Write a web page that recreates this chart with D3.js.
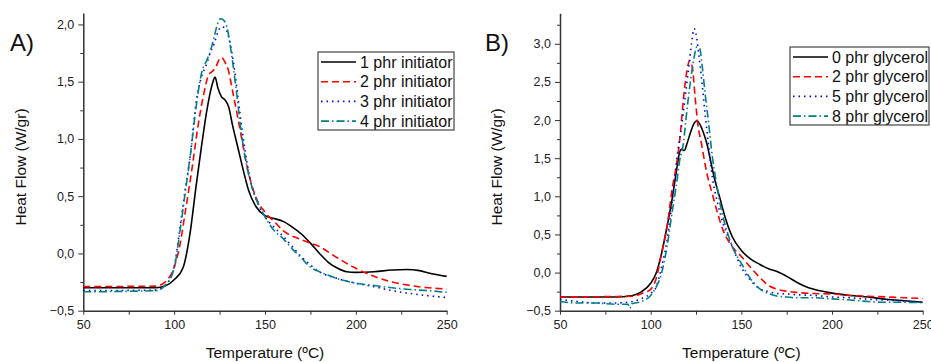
<!DOCTYPE html>
<html><head><meta charset="utf-8">
<script src="https://cdn.jsdelivr.net/npm/d3@7"></script>
<style>body{margin:0;background:#fff}svg{display:block;font-family:"Liberation Sans",Arial,sans-serif}</style>
</head><body><svg id="c" width="931" height="362"></svg>
<script>
// ---- Data ----
const xTicks = [50, 100, 150, 200, 250];
const yTicksA = [-0.5, 0, 0.5, 1.0, 1.5, 2.0];
const yTicksB = [-0.5, 0, 0.5, 1.0, 1.5, 2.0, 2.5, 3.0];
const seriesNamesA = ["1 phr initiator", "2 phr initiator", "3 phr initiator", "4 phr initiator"];
const seriesNamesB = ["0 phr glycerol", "2 phr glycerol", "5 phr glycerol", "8 phr glycerol"];

const tempA1 = [50,90,95,100,105,108.7,112,115,118,121,122.5,124,126,128,130,132,135,138,141,145,150,155,160,165,170,175,180,185,190,195,200,210,220,228,235,240,250];
const hfA1 = [-0.30,-0.30,-0.285,-0.23,-0.12,0.17,0.58,0.93,1.25,1.48,1.54,1.45,1.37,1.34,1.28,1.13,0.93,0.73,0.55,0.41,0.33,0.305,0.28,0.23,0.17,0.09,0.0,-0.08,-0.13,-0.16,-0.165,-0.16,-0.145,-0.14,-0.15,-0.17,-0.20];
const tempA2 = [50,90,95,100,103,106,110,113,116,119,121,123,125,126,128,130,132,135,138,141,145,150,155,160,170,180,190,200,210,220,230,240,250];
const hfA2 = [-0.29,-0.285,-0.25,-0.12,0.06,0.35,0.76,1.10,1.37,1.56,1.59,1.63,1.70,1.71,1.67,1.59,1.43,1.19,0.93,0.70,0.49,0.36,0.28,0.20,0.12,0.06,-0.04,-0.13,-0.20,-0.25,-0.28,-0.30,-0.31];
const tempA3 = [50,90,95,100,103,106,109,112,115,118,120,122,124,126,128,130,133,136,139,142,146,150,155,160,165,170,175,180,190,200,210,220,230,240,250];
const hfA3 = [-0.325,-0.32,-0.28,-0.12,0.20,0.55,0.87,1.31,1.54,1.66,1.76,1.83,1.93,1.98,1.97,1.89,1.63,1.25,0.90,0.64,0.44,0.32,0.23,0.15,0.06,-0.03,-0.10,-0.16,-0.22,-0.26,-0.29,-0.325,-0.35,-0.37,-0.385];
const tempA4 = [50,90,95,100,103,106,109,112,115,118,120,122,124,125.5,127,129,131,134,137,140,144,148,150,155,160,165,170,175,180,190,200,210,220,230,240,250];
const hfA4 = [-0.335,-0.325,-0.28,-0.13,0.17,0.52,0.87,1.27,1.57,1.69,1.77,1.89,2.01,2.05,2.04,1.98,1.80,1.45,1.05,0.76,0.52,0.38,0.32,0.20,0.13,0.04,-0.04,-0.12,-0.16,-0.22,-0.26,-0.28,-0.30,-0.315,-0.325,-0.34];

const tempB0 = [50,80,90,95,100,103,106,109,112,114,116,117,118.5,120,122,124,125.5,127,129,131,133,135,138,141,145,150,155,160,165,170,175,180,185,190,200,210,220,230,240,250];
const hfB0 = [-0.32,-0.32,-0.30,-0.25,-0.14,-0.01,0.25,0.60,0.99,1.30,1.58,1.62,1.60,1.69,1.84,1.96,1.99,1.95,1.84,1.69,1.47,1.25,0.99,0.73,0.47,0.29,0.18,0.11,0.05,0.01,-0.05,-0.12,-0.18,-0.22,-0.27,-0.30,-0.32,-0.35,-0.37,-0.39];
const tempB2 = [50,90,95,100,103,106,109,112,114,116,118,120,121.5,123,124.5,126,128,131,134,137,140,145,150,155,160,165,170,175,180,190,200,210,220,230,240,250];
const hfB2 = [-0.32,-0.31,-0.275,-0.22,-0.08,0.25,0.60,1.12,1.38,1.73,2.26,2.65,2.78,2.69,2.30,1.95,1.69,1.30,1.03,0.77,0.55,0.34,0.21,0.07,-0.06,-0.17,-0.22,-0.245,-0.26,-0.275,-0.28,-0.30,-0.31,-0.32,-0.33,-0.34];
const tempB5 = [50,60,70,80,90,95,100,103,106,109,112,115,117,119,121,122.5,124,125,126.5,128,130,132,134,137,140,145,150,155,160,165,170,175,180,190,200,210,220,230,240,250];
const hfB5 = [-0.35,-0.38,-0.40,-0.40,-0.38,-0.34,-0.275,-0.19,0.07,0.42,0.95,1.60,1.91,2.30,2.69,3.00,3.20,3.13,2.87,2.56,2.08,1.65,1.25,0.90,0.64,0.34,0.07,-0.10,-0.21,-0.25,-0.275,-0.28,-0.29,-0.30,-0.32,-0.33,-0.35,-0.36,-0.375,-0.385];
const tempB8 = [50,60,70,80,87.5,88.5,89.5,95,100,103,106,109,112,114,116,118,120,122,124,125.5,127,128.5,130,132,134,136,139,142,145,150,155,160,165,170,175,180,190,200,210,220,230,240,250];
const hfB8 = [-0.38,-0.40,-0.40,-0.415,-0.415,-0.47,-0.41,-0.38,-0.30,-0.19,-0.01,0.34,0.82,1.12,1.47,1.69,2.13,2.52,2.83,2.96,2.94,2.69,2.35,1.95,1.52,1.21,0.82,0.55,0.34,0.12,-0.08,-0.21,-0.275,-0.31,-0.32,-0.33,-0.33,-0.345,-0.36,-0.38,-0.39,-0.39,-0.395];

const colors = ["#000000", "#ff0000", "#0000ff", "#008080"];
const dashes = [null, "7,4", "1.5,4", "8,3,1.5,3"];

const svg = d3.select("#c");
const fmt = d => d3.format(".1f")(d).replace(".", ",");

function panel(cfg, idx) {
  const x = d3.scaleLinear().domain([50, 250]).range([cfg.x0, cfg.x1]);
  const y = d3.scaleLinear().domain(cfg.yDomain).range([cfg.yBottom, cfg.yTop]);
  const g = svg.append("g");
  // minor ticks
  const xMinor = d3.range(75, 250, 50);
  g.append("g").attr("transform", `translate(0,${cfg.yBottom})`)
    .call(d3.axisBottom(x).tickValues(xMinor).tickSize(4).tickFormat(""))
    .call(a => a.select(".domain").remove())
    .selectAll("line").attr("stroke", "#333");
  const yMinor = d3.range(cfg.yDomain[0] + 0.25, cfg.yDomain[1], 0.5);
  g.append("g").attr("transform", `translate(${cfg.x0},0)`)
    .call(d3.axisLeft(y).tickValues(yMinor).tickSize(3).tickFormat(""))
    .call(a => a.select(".domain").remove())
    .selectAll("line").attr("stroke", "#333");
  const xa = g.append("g").attr("transform", `translate(0,${cfg.yBottom})`)
    .call(d3.axisBottom(x).tickValues(xTicks).tickSize(4).tickSizeOuter(0).tickPadding(5));
  xa.select(".domain").attr("stroke", "#333").attr("stroke-width", 1.5);
  xa.selectAll("line").attr("stroke", "#333");
  xa.selectAll("text").attr("font-size", 12.5).attr("fill", "#222").attr("font-family", "Liberation Sans, Arial");
  const ya = g.append("g").attr("transform", `translate(${cfg.x0},0)`)
    .call(d3.axisLeft(y).tickValues(cfg.yTicks).tickFormat(fmt).tickSize(5).tickSizeOuter(0).tickPadding(4));
  ya.select(".domain").attr("stroke", "#333").attr("stroke-width", 1.5);
  ya.selectAll("line").attr("stroke", "#333");
  ya.selectAll("text").attr("font-size", 12.5).attr("fill", "#222").attr("font-family", "Liberation Sans, Arial");

  const line = d3.line().x(d => x(d[0])).y(d => y(d[1])).curve(d3.curveMonotoneX);
  cfg.series.forEach((s, i) => {
    const pts = s.t.map((t, k) => [t, s.v[k]]);
    g.append("path").attr("d", line(pts)).attr("fill", "none")
      .attr("stroke", colors[i]).attr("stroke-width", 1.6)
      .attr("stroke-dasharray", dashes[i]);
  });

  // titles
  g.append("text").attr("x", (cfg.x0 + cfg.x1) / 2).attr("y", 358)
    .attr("text-anchor", "middle").attr("font-size", 15.5).attr("fill", "#111")
    .text("Temperature (ºC)");
  g.append("text").attr("transform", `translate(${cfg.yTitleX},167) rotate(-90)`)
    .attr("text-anchor", "middle").attr("font-size", 15.5).attr("fill", "#111")
    .text("Heat Flow (W/gr)");
  g.append("text").attr("x", cfg.labelX).attr("y", 51).attr("font-size", 24).attr("fill", "#111").text(cfg.label);

  // legend
  const L = cfg.legend;
  const cid = "clip" + idx;
  svg.append("defs").append("clipPath").attr("id", cid)
    .append("rect").attr("x", L.x).attr("y", L.y).attr("width", L.w).attr("height", L.h);
  g.append("rect").attr("x", L.x).attr("y", L.y).attr("width", L.w).attr("height", L.h)
    .attr("fill", "#fff");
  const lg = g.append("g").attr("clip-path", `url(#${cid})`);
  cfg.names.forEach((n, i) => {
    const yy = L.y + 10 + i * 19.7;
    lg.append("line").attr("x1", L.x + 3).attr("x2", L.x + 38).attr("y1", yy).attr("y2", yy)
      .attr("stroke", colors[i]).attr("stroke-width", 1.6).attr("stroke-dasharray", dashes[i]);
    lg.append("text").attr("x", L.x + 42).attr("y", yy + 5.5).attr("font-size", 16).attr("fill", "#111").text(n);
  });
  g.append("rect").attr("x", L.x).attr("y", L.y).attr("width", L.w).attr("height", L.h)
    .attr("fill", "none").attr("stroke", "#444").attr("stroke-width", 1.2);
}

panel({
  x0: 83.3, x1: 446.7, yTop: 13, yBottom: 310.7, yDomain: [-0.5, 2.1], yTicks: yTicksA,
  yTitleX: 26, label: "A)", labelX: 10,
  legend: {x: 318, y: 52, w: 136, h: 78}, names: seriesNamesA,
  series: [{t: tempA1, v: hfA1}, {t: tempA2, v: hfA2}, {t: tempA3, v: hfA3}, {t: tempA4, v: hfA4}]
}, 0);
panel({
  x0: 560, x1: 922.7, yTop: 13.3, yBottom: 310.7, yDomain: [-0.5, 3.4], yTicks: yTicksB,
  yTitleX: 502, label: "B)", labelX: 485,
  legend: {x: 790, y: 47, w: 139, h: 78}, names: seriesNamesB,
  series: [{t: tempB0, v: hfB0}, {t: tempB2, v: hfB2}, {t: tempB5, v: hfB5}, {t: tempB8, v: hfB8}]
}, 1);
</script></body></html>
